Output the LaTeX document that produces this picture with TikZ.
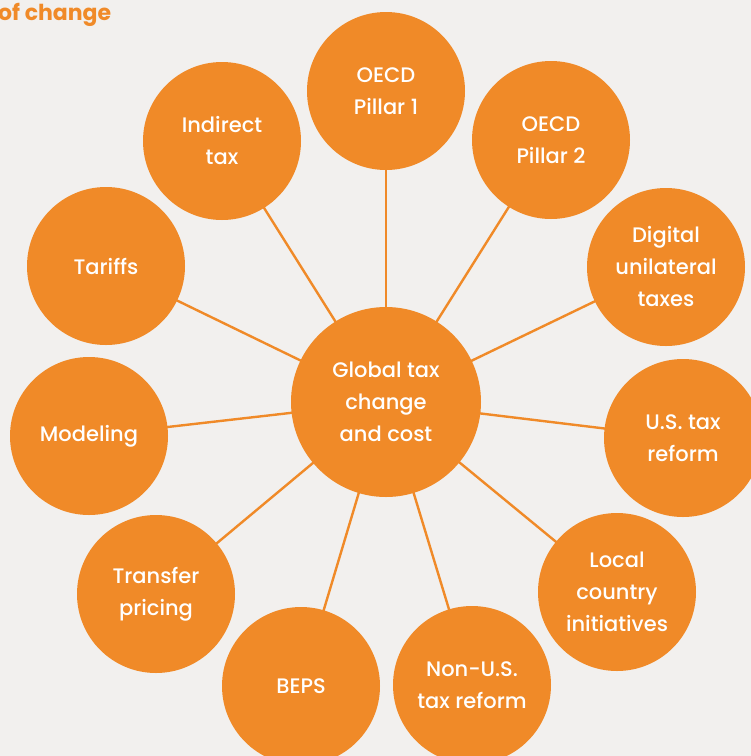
\documentclass[tikz,border=0pt]{standalone}
\usepackage{fontspec}
\setmainfont{Poppins}
\newfontfamily\lblfont{Poppins Medium}
\definecolor{bg}{HTML}{F2F0EE}
\definecolor{org}{HTML}{F08A28}
\begin{document}
\begin{tikzpicture}[x=1pt,y=-1pt,
  hub/.style={circle,fill=org,minimum size=190pt,inner sep=0pt,text=white,align=center,font=\lblfont\fontsize{21}{32}\selectfont},
  leaf/.style={circle,fill=org,minimum size=158pt,inner sep=0pt,text=white,align=center,font=\lblfont\fontsize{21}{32}\selectfont},
  spoke/.style={draw=org,line width=2.4pt}]
\fill[bg] (0,0) rectangle (751,756);
\useasboundingbox (0,0) rectangle (751,756);
\node[anchor=base west,text=org,font=\fontsize{22}{24}\bfseries\selectfont,inner sep=0pt] (title) at (-2,20) {of change};
\coordinate (c) at (386,402);
\coordinate (p1) at (386,91);
\coordinate (p2) at (551,140);
\coordinate (dg) at (666,267);
\coordinate (us) at (683,438);
\coordinate (lc) at (617,592);
\coordinate (nu) at (472,685);
\coordinate (bp) at (301,686);
\coordinate (tp) at (156,594);
\coordinate (md) at (89,436);
\coordinate (tf) at (106,266);
\coordinate (it) at (222,141);
\foreach \n in {p1,p2,dg,us,lc,nu,bp,tp,md,tf,it} \draw[spoke] (c) -- (\n);
\node[leaf] (np1) at (p1) {OECD\\Pillar 1};
\node[leaf] (np2) at (p2) {OECD\\Pillar 2};
\node[leaf] (ndg) at (dg) {Digital\\unilateral\\taxes};
\node[leaf] (nus) at (us) {U.S. tax\\reform};
\node[leaf] (nlc) at (lc) {Local\\country\\initiatives};
\node[leaf] (nnu) at (nu) {Non-U.S.\\tax reform};
\node[leaf] (nbp) at (bp) {BEPS};
\node[leaf] (ntp) at (tp) {Transfer\\pricing};
\node[leaf] (nmd) at (md) {Modeling};
\node[leaf] (ntf) at (tf) {Tariffs};
\node[leaf] (nit) at (it) {Indirect\\tax};
\node[hub] (hub) at (c) {Global tax\\change\\and cost};
\end{tikzpicture}
\end{document}
